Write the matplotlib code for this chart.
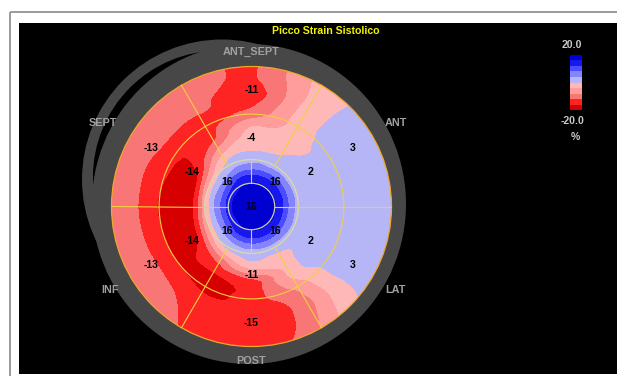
import numpy as np
import matplotlib
matplotlib.use("Agg")
import matplotlib.pyplot as plt
import matplotlib.tri as mtri
from matplotlib.patches import Circle, Rectangle, Ellipse
from matplotlib.colors import ListedColormap, BoundaryNorm
from matplotlib.cm import ScalarMappable

# ---- segment values (17-segment bullseye) ----
basal_angles = [30, 90, 150, 210, 270, 330]
basal_values = [3, -11, -13, -13, -15, 3]
mid_angles = [30, 90, 150, 210, 270, 330]
mid_values = [2, -4, -14, -14, -11, 2]
apical_angles = [45, 135, 225, 315]
apical_values = [16, 16, 16, 16]
apex_value = 16

region_names = ["ANT", "ANT_SEPT", "SEPT", "INF", "POST", "LAT"]

# ---- regional strain map samples (polar grid) ----
sample_angles = [0, 30, 60, 90, 120, 150, 180, 210, 240, 270, 300, 330]
sample_radii = [0.15, 0.22, 0.28, 0.34, 0.42, 0.52, 0.64, 0.76, 0.88, 1.04]
center_strain = 19.0
strain_grid = [
    [16.8, 12.4, 6.0, 3.0, 2.5, 2.5, 2.5, 2.5, 2.5, 2.5],            # 0
    [16.8, 12.4, 6.0, 3.0, 2.5, 2.0, 2.0, 2.0, 2.0, 2.0],            # 30
    [16.8, 12.4, 6.0, 2.0, 0.0, -2.0, -2.5, -2.5, -3.0, -3.0],       # 60
    [16.8, 12.4, 6.0, 2.5, -1.0, -2.5, -9.0, -13.5, -13.0, -12.5],   # 90
    [16.0, 11.0, 4.5, 1.0, -4.0, -11.0, -14.0, -12.0, -9.8, -9.8],   # 120
    [15.0, 8.0, 2.5, -4.0, -14.0, -17.5, -15.5, -12.5, -10.0, -9.8], # 150
    [15.0, 8.0, 2.5, -6.0, -16.5, -18.0, -16.5, -13.5, -10.0, -9.8], # 180
    [15.0, 8.0, 2.5, -4.0, -14.0, -17.5, -16.5, -13.0, -10.2, -9.8], # 210
    [16.0, 11.0, 4.5, 0.5, -8.0, -15.0, -17.0, -14.5, -13.0, -12.0], # 240
    [16.8, 12.4, 6.0, 2.0, -2.0, -12.5, -14.0, -14.5, -14.5, -14.0], # 270
    [16.8, 12.4, 6.0, 2.0, -2.0, -3.0, -6.0, -9.0, -9.0, -7.0],      # 300
    [16.8, 12.4, 6.0, 3.0, 2.5, 2.5, 2.5, 2.5, 2.0, 2.0],            # 330
]

scale_min, scale_max, scale_step = -20, 20, 4
band_colors = ['#d60000', '#ff2424', '#f87676', '#ff9c9c', '#ffb8b8',
               '#b6b6f6', '#8484ff', '#4c4cff', '#1818ee', '#0000d0']

# ---- figure ----
W, H = 617, 376
fig = plt.figure(figsize=(W / 100, H / 100), dpi=100, facecolor='white')
ax0 = fig.add_axes([0, 0, 1, 1])
ax0.set_xlim(0, W)
ax0.set_ylim(H, 0)
ax0.axis('off')

ax0.plot([9.5, 9.5], [11.5, H], color='#9a9a9a', lw=1.4, solid_capstyle='butt')
ax0.plot([9.5, W], [11.5, 11.5], color='#9a9a9a', lw=1.4, solid_capstyle='butt')
ax0.add_patch(Rectangle((19, 23), W - 19, 351, facecolor='black', edgecolor='none'))

ax0.text(326, 31, "Picco Strain Sistolico", color='#f2f200', fontsize=7.6,
         fontweight='bold', family='Liberation Sans', ha='center', va='center')

# ---- bullseye axes (1 unit = 140 px) ----
cx, cy, R = 251.5, 206.5, 140.0
half = 1.25
axb = fig.add_axes([(cx - half * R) / W, (H - cy - half * R) / H,
                    2 * half * R / W, 2 * half * R / H])
axb.set_xlim(-half, half)
axb.set_ylim(-half, half)
axb.set_aspect('equal')
axb.axis('off')

# grey shell around the map
shell = '#474747'
axb.add_patch(Circle((-0.2107, 0.1929), 1.0, facecolor=shell, edgecolor='none'))
axb.add_patch(Circle((-0.229, 0.210), 0.9036, facecolor='black', edgecolor='none'))
axb.add_patch(Ellipse((-0.0179, 0.0179), 2.243, 2.286, facecolor=shell, edgecolor='none'))

# strain field
th = np.deg2rad(np.repeat(sample_angles, len(sample_radii)))
rr = np.tile(sample_radii, len(sample_angles))
xs = np.concatenate([[0.0], rr * np.cos(th)])
ys = np.concatenate([[0.0], rr * np.sin(th)])
zs = np.concatenate([[center_strain], np.asarray(strain_grid).ravel()])
tri = mtri.Triangulation(xs, ys)
tri_f, z_f = mtri.UniformTriRefiner(tri).refine_field(zs, subdiv=4)

levels = np.arange(scale_min, scale_max + 1, scale_step)
cmap = ListedColormap(band_colors)
cmap.set_under(band_colors[0])
cmap.set_over(band_colors[-1])
norm = BoundaryNorm(levels, cmap.N)
cf = axb.tricontourf(tri_f, z_f, levels=levels, cmap=cmap, norm=norm, extend='both')
clip = Circle((0, 0), 1.0, transform=axb.transData)
cf.set_clip_path(clip)

# segment grid
grid_col = '#f0d040'
lw = 0.8
for a in [0, 60, 120, 180, 240, 300]:
    t = np.deg2rad(a)
    axb.plot([0.335 * np.cos(t), np.cos(t)], [0.335 * np.sin(t), np.sin(t)],
             color=grid_col, lw=lw)
for a in [0, 90, 180, 270]:
    t = np.deg2rad(a)
    axb.plot([0.166 * np.cos(t), 0.335 * np.cos(t)], [0.166 * np.sin(t), 0.335 * np.sin(t)],
             color=grid_col, lw=lw)
axb.add_patch(Circle((0, 0), 0.66, facecolor='none', edgecolor=grid_col, lw=lw))
axb.add_patch(Circle((0, 0), 0.335, facecolor='none', edgecolor='#d8d8a8', lw=1.0))
axb.add_patch(Circle((0, 0), 0.166, facecolor='none', edgecolor='#d0d0b0', lw=0.9))
axb.add_patch(Circle((0, 0), 1.0, facecolor='none', edgecolor='#f0a828', lw=0.9))

# segment value labels
lab = dict(color='black', fontsize=7.6, fontweight='bold', family='Liberation Sans',
           ha='center', va='center')
for a, v in zip(basal_angles, basal_values):
    t = np.deg2rad(a)
    axb.text(0.832 * np.cos(t), 0.832 * np.sin(t), f"{v}", **lab)
for a, v in zip(mid_angles, mid_values):
    t = np.deg2rad(a)
    axb.text(0.488 * np.cos(t), 0.488 * np.sin(t), f"{v}", **lab)
for a, v in zip(apical_angles, apical_values):
    t = np.deg2rad(a)
    axb.text(0.243 * np.cos(t), 0.243 * np.sin(t), f"{v}", **lab)
axb.text(0, 0, f"{apex_value}", **lab)

# wall names
name_pos = {"ANT": (1.03, 0.596), "ANT_SEPT": (0.0, 1.104), "SEPT": (-1.06, 0.596),
            "INF": (-1.01, -0.596), "POST": (0.0, -1.104), "LAT": (1.03, -0.596)}
for n in region_names:
    x, y = name_pos[n]
    axb.text(x, y, n, color='#a0a0a0', fontsize=7.8, fontweight='bold',
             family='Liberation Sans', ha='center', va='center')

# colour scale
cax = fig.add_axes([570 / W, (H - 110) / H, 12 / W, 55 / H])
cb = fig.colorbar(ScalarMappable(norm=norm, cmap=cmap), cax=cax, orientation='vertical')
cb.outline.set_visible(False)
cb.set_ticks([])
txt = dict(color='#c8c8c8', fontsize=7.6, fontweight='bold', family='Liberation Sans',
           ha='center', va='center')
ax0.text(572, 45.5, f"{scale_max:.1f}", **txt)
ax0.text(573, 120.5, f"{scale_min:.1f}", **txt)
ax0.text(575.5, 137, "%", **txt)

fig.savefig("out.png", dpi=100, facecolor='white')
